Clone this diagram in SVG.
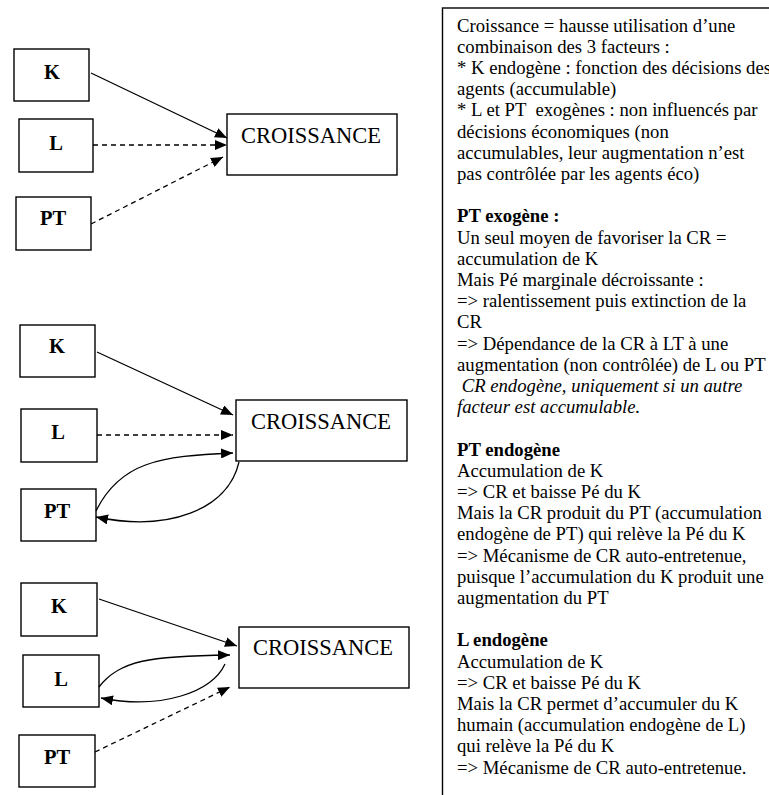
<svg xmlns="http://www.w3.org/2000/svg" width="769" height="795" viewBox="0 0 769 795">
<style>
.box{fill:#fff;stroke:#000;stroke-width:1.4}
.lbl{font-family:"Liberation Serif","Times New Roman",serif;font-weight:bold;font-size:20.5px;text-anchor:middle;fill:#000}
.cr{font-family:"Liberation Serif","Times New Roman",serif;font-size:22.5px;text-anchor:middle;fill:#000}
.c{fill:none;stroke:#000;stroke-width:1.3}
.d{stroke-dasharray:5,4}
.t{font-family:"Liberation Serif","Times New Roman",serif;font-size:18.7px;fill:#000;white-space:pre}
.b{font-weight:bold}
.i{font-style:italic}
</style>
<defs>
<marker id="ah" viewBox="0 0 12 10" refX="12" refY="5" markerWidth="12" markerHeight="10" orient="auto" markerUnits="userSpaceOnUse"><path d="M0,0 L12,5 L0,10 z" fill="#000"/></marker>
</defs>
<rect width="769" height="795" fill="#fff"/>

<g id="s1-K"><rect class="box" x="14" y="49" width="75" height="52"/><text class="lbl" x="52" y="79">K</text></g>
<g id="s1-L"><rect class="box" x="19" y="119" width="74" height="53"/><text class="lbl" x="56" y="150">L</text></g>
<g id="s1-PT"><rect class="box" x="16" y="197" width="75" height="53"/><text class="lbl" x="53" y="225">PT</text></g>
<g id="s1-CR"><rect class="box" x="227" y="114" width="170" height="61"/><text class="cr" x="311" y="143">CROISSANCE</text></g>

<g id="s2-K"><rect class="box" x="20" y="325" width="75" height="52"/><text class="lbl" x="57" y="353">K</text></g>
<g id="s2-L"><rect class="box" x="21" y="409" width="76" height="53"/><text class="lbl" x="58" y="439">L</text></g>
<g id="s2-PT"><rect class="box" x="21" y="489" width="75" height="52"/><text class="lbl" x="57" y="518">PT</text></g>
<g id="s2-CR"><rect class="box" x="236" y="400" width="171" height="61"/><text class="cr" x="321" y="429">CROISSANCE</text></g>

<g id="s3-K"><rect class="box" x="21" y="583" width="76" height="53"/><text class="lbl" x="59" y="613">K</text></g>
<g id="s3-L"><rect class="box" x="23" y="655" width="76" height="52"/><text class="lbl" x="61" y="686">L</text></g>
<g id="s3-PT"><rect class="box" x="19" y="735" width="76" height="52"/><text class="lbl" x="57" y="764">PT</text></g>
<g id="s3-CR"><rect class="box" x="239" y="627" width="170" height="61"/><text class="cr" x="323" y="655">CROISSANCE</text></g>

<g id="connectors">
<path class="c" d="M91,73 L227,138" marker-end="url(#ah)"/>
<path class="c d" d="M93,145 L227,145" marker-end="url(#ah)"/>
<path class="c d" d="M91,224 L223,157" marker-end="url(#ah)"/>

<path class="c" d="M97,352 L233,415" marker-end="url(#ah)"/>
<path class="c d" d="M97,435 L233,435" marker-end="url(#ah)"/>
<path class="c" d="M96,511 C120,462 160,456 233,453" marker-end="url(#ah)"/>
<path class="c" d="M239,462 C228,510 168,532 96,517" marker-end="url(#ah)"/>

<path class="c" d="M99,599 L237,646" marker-end="url(#ah)"/>
<path class="c" d="M99,687 C120,660 150,656 230,655" marker-end="url(#ah)"/>
<path class="c" d="M225,664 C212,692 162,710 101,698" marker-end="url(#ah)"/>
<path class="c d" d="M95,752 L230,687" marker-end="url(#ah)"/>
</g>

<g id="notes">
<rect class="box" x="442.5" y="8" width="400" height="900"/>
<text class="t" x="457" y="31.5">Croissance = hausse utilisation d’une</text>
<text class="t" x="457" y="52.7">combinaison des 3 facteurs :</text>
<text class="t" x="457" y="73.9">* K endogène : fonction des décisions des</text>
<text class="t" x="457" y="95.1">agents (accumulable)</text>
<text class="t" x="457" y="116.3">* L et PT  exogènes : non influencés par</text>
<text class="t" x="457" y="137.5">décisions économiques (non</text>
<text class="t" x="457" y="158.7">accumulables, leur augmentation n’est</text>
<text class="t" x="457" y="179.9">pas contrôlée par les agents éco)</text>
<text class="t b" x="457" y="222.3">PT exogène :</text>
<text class="t" x="457" y="243.5">Un seul moyen de favoriser la CR =</text>
<text class="t" x="457" y="264.7">accumulation de K</text>
<text class="t" x="457" y="285.9">Mais Pé marginale décroissante :</text>
<text class="t" x="457" y="307.1">=&gt; ralentissement puis extinction de la</text>
<text class="t" x="457" y="328.3">CR</text>
<text class="t" x="457" y="349.5">=&gt; Dépendance de la CR à LT à une</text>
<text class="t" x="457" y="370.7">augmentation (non contrôlée) de L ou PT</text>
<text class="t i" x="457" y="391.9"> CR endogène, uniquement si un autre</text>
<text class="t i" x="457" y="413.1">facteur est accumulable.</text>
<text class="t b" x="457" y="455.5">PT endogène</text>
<text class="t" x="457" y="476.7">Accumulation de K</text>
<text class="t" x="457" y="497.9">=&gt; CR et baisse Pé du K</text>
<text class="t" x="457" y="519.1">Mais la CR produit du PT (accumulation</text>
<text class="t" x="457" y="540.3">endogène de PT) qui relève la Pé du K</text>
<text class="t" x="457" y="561.5">=&gt; Mécanisme de CR auto-entretenue,</text>
<text class="t" x="457" y="582.7">puisque l’accumulation du K produit une</text>
<text class="t" x="457" y="603.9">augmentation du PT</text>
<text class="t b" x="457" y="646.3">L endogène</text>
<text class="t" x="457" y="667.5">Accumulation de K</text>
<text class="t" x="457" y="688.7">=&gt; CR et baisse Pé du K</text>
<text class="t" x="457" y="709.9">Mais la CR permet d’accumuler du K</text>
<text class="t" x="457" y="731.1">humain (accumulation endogène de L)</text>
<text class="t" x="457" y="752.3">qui relève la Pé du K</text>
<text class="t" x="457" y="773.5">=&gt; Mécanisme de CR auto-entretenue.</text>
</g>
</svg>
